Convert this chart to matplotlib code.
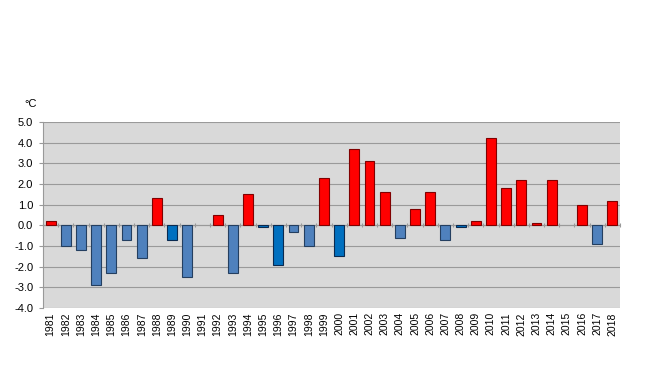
import matplotlib
matplotlib.use("Agg")
import matplotlib.pyplot as plt
import numpy as np

years = [str(y) for y in range(1981, 2019)]
values = [0.2, -1.0, -1.2, -2.9, -2.3, -0.7, -1.6, 1.3, -0.7, -2.5,
          0.0, 0.5, -2.3, 1.5, -0.1, -1.9, -0.3, -1.0, 2.3, -1.5,
          3.7, 3.1, 1.6, -0.6, 0.8, 1.6, -0.7, -0.1, 0.2, 4.2,
          1.8, 2.2, 0.1, 2.2, 0.0, 1.0, -0.9, 1.2]
dark_blue_years = ["1989", "1995", "1996", "2000", "2008"]
y_ticks = [-4.0, -3.0, -2.0, -1.0, 0.0, 1.0, 2.0, 3.0, 4.0, 5.0]

plt.rcParams['font.family'] = ['Liberation Sans', 'DejaVu Sans']

fig = plt.figure(figsize=(6.49, 3.65), dpi=100)
ax = fig.add_axes([0.0663, 0.156, 0.889, 0.510])
ax.set_facecolor('#D9D9D9')

x = np.arange(len(years))
colors = []
edges = []
for yr, v in zip(years, values):
    if v == 0:
        colors.append('none')
        edges.append('none')
    elif v > 0:
        colors.append('#FF0000')
        edges.append('#800000')
    elif yr in dark_blue_years:
        colors.append('#0070C0')
        edges.append('#0A2A50')
    else:
        colors.append('#4F81BD')
        edges.append('#243F60')
ax.bar(x, values, width=0.65, color=colors, edgecolor=edges, linewidth=0.8, zorder=3)

ax.set_xlim(-0.5, len(years) - 0.5)
ax.set_ylim(-4.0, 5.0)
ax.set_yticks(y_ticks)
ax.set_yticklabels([f"{t:.1f}" for t in y_ticks], fontsize=8)
ax.yaxis.grid(True, color='#9A9A9A', linewidth=0.8, zorder=1)
ax.set_axisbelow(True)

ax.set_xticks(x)
ax.set_xticklabels(years, rotation=90, fontsize=7.5)
ax.tick_params(axis='x', length=0, pad=3)
ax.tick_params(axis='y', length=3, color='#999999', pad=4)

for s in ['top', 'right', 'bottom']:
    ax.spines[s].set_visible(False)
ax.spines['left'].set_color('#999999')

ax.axhline(0, color='#999999', linewidth=0.8, zorder=2)
sec = ax.secondary_xaxis(4.0 / 9.0)
sec.set_xticks(np.arange(len(years) + 1) - 0.5)
sec.set_xticklabels([])
sec.tick_params(axis='x', length=3, direction='inout', color='#999999')
sec.spines['bottom'].set_visible(False)
sec.spines['top'].set_visible(False)

fig.text(0.047, 0.715, "°C", fontsize=8, ha='center', va='center')

fig.savefig("out.png", dpi=100)
